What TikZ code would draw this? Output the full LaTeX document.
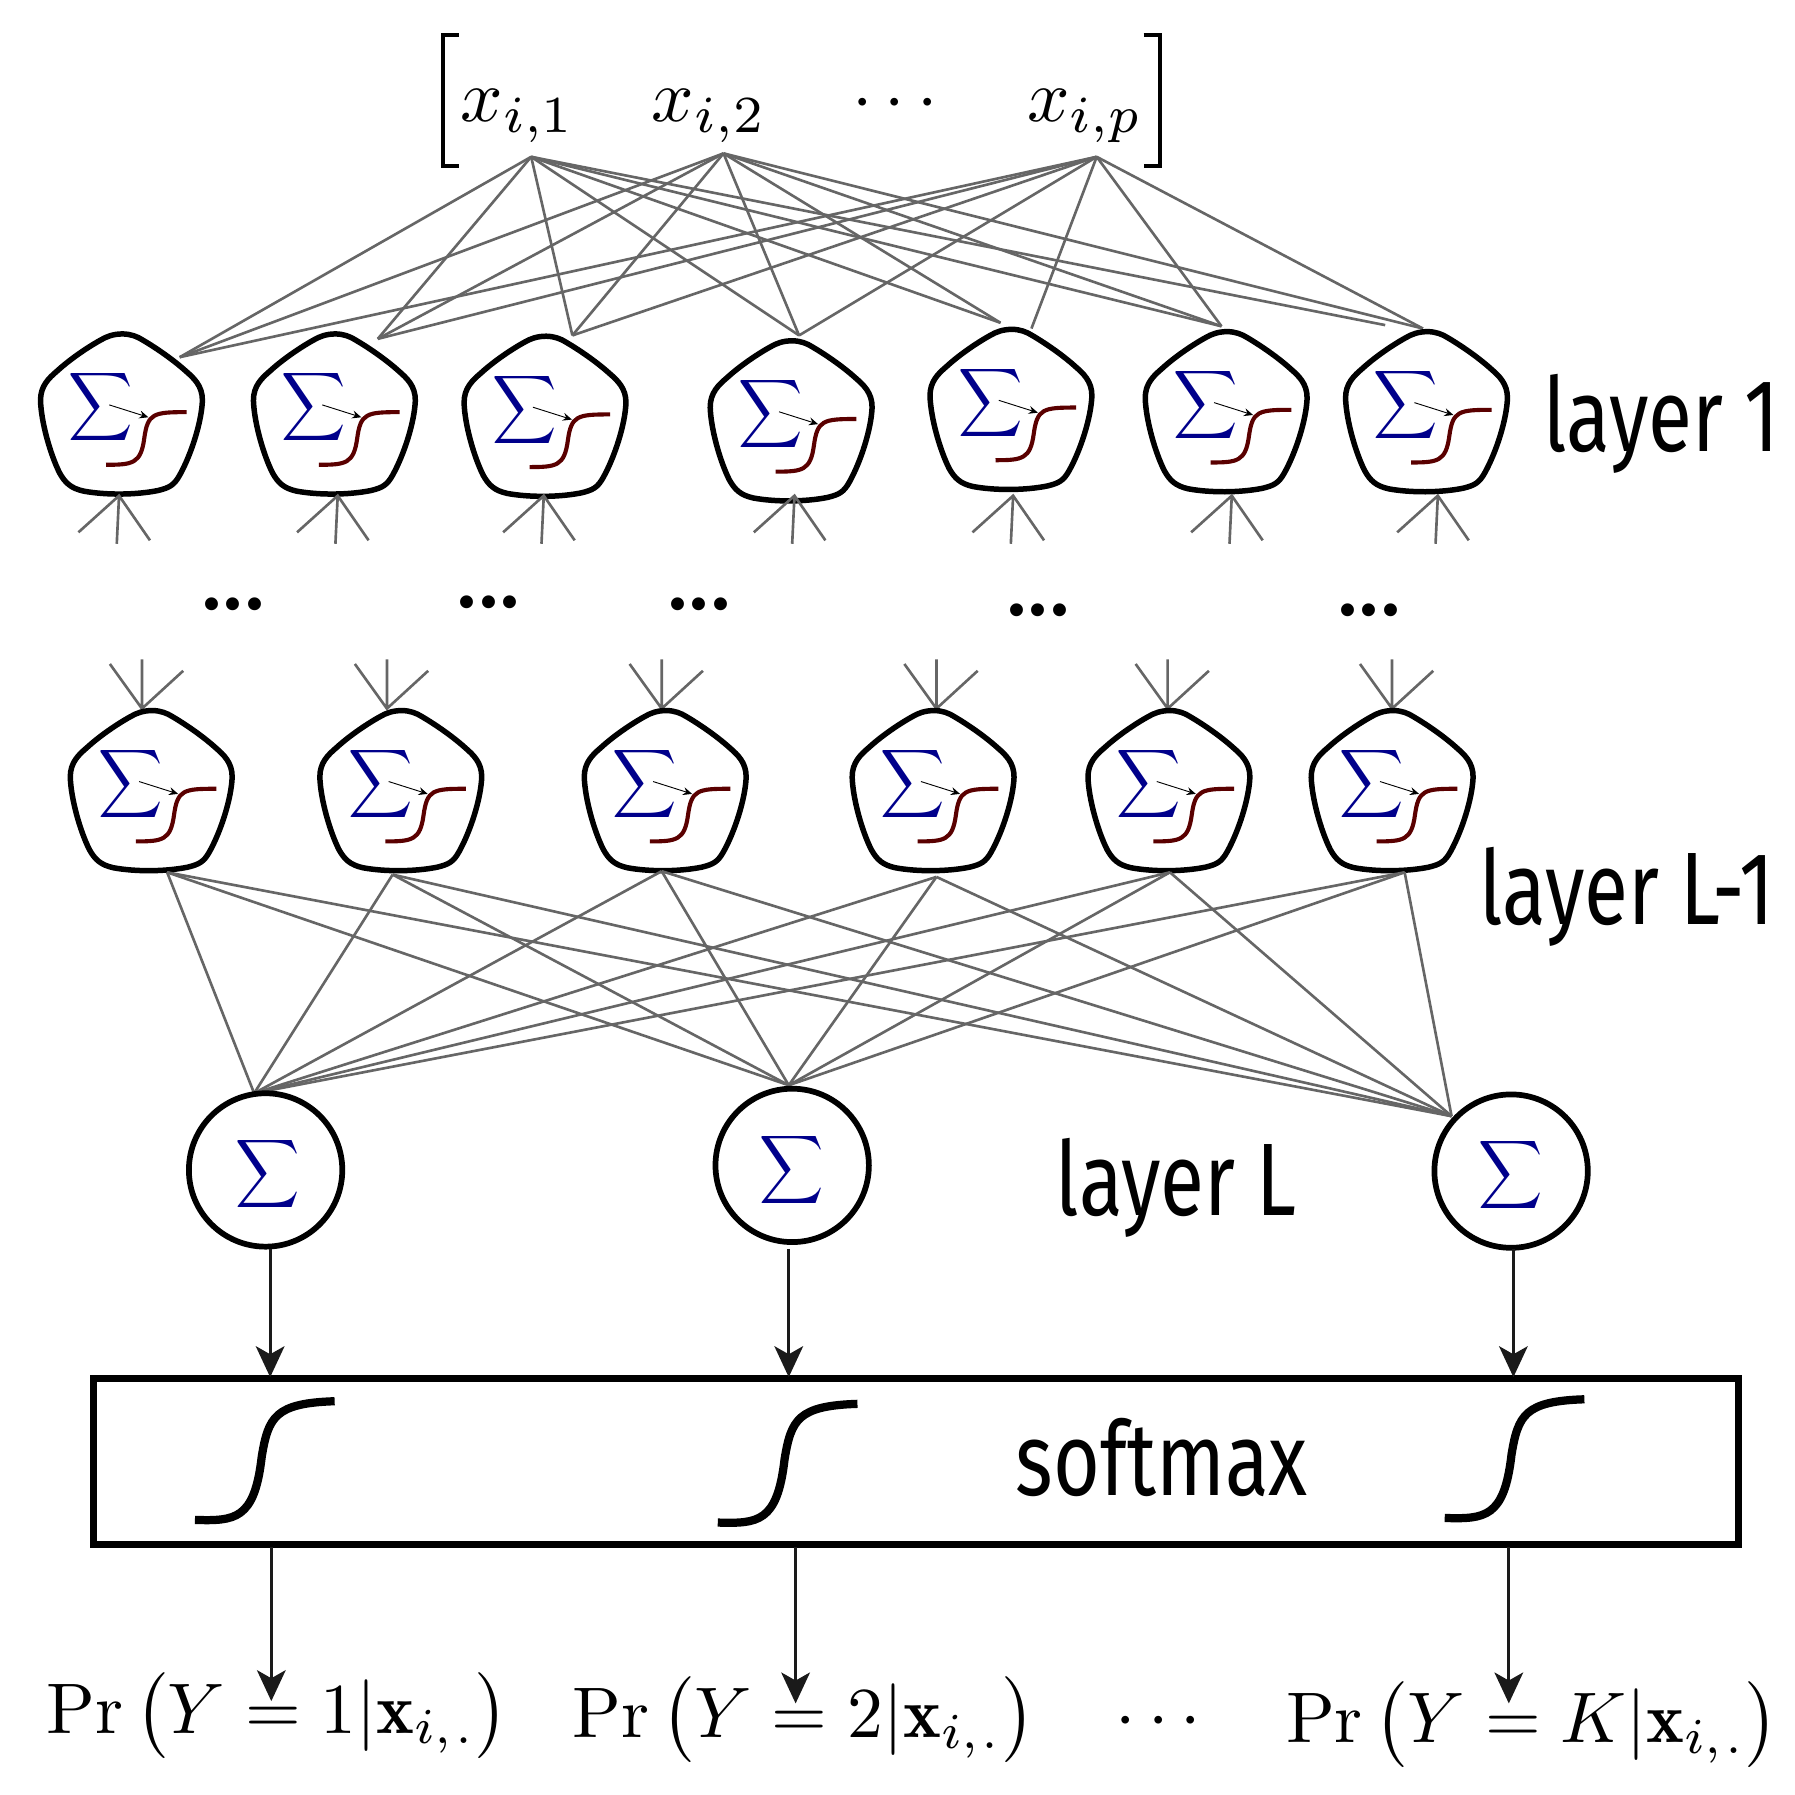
\documentclass[tikz,border=0pt]{standalone}
\usepackage{fontspec}
\usetikzlibrary{arrows.meta}
\newfontfamily\ubu{Fira Sans}
\definecolor{edgegray}{HTML}{666666}
\definecolor{sigblue}{HTML}{00008B}
\definecolor{curvered}{HTML}{5A0000}
\definecolor{arrowblack}{HTML}{1A1A1A}
\tikzset{
  cell/.style={draw=black,line width=2.4pt,line join=round},
  edge/.style={draw=edgegray,line width=1.15pt},
  sig/.style={inner sep=0pt,text=sigblue},
  curve/.style={draw=curvered,line width=1.8pt},
  bigcurve/.style={draw=black,line width=3.6pt},
  flow/.style={draw=arrowblack,line width=1.45pt,-{Stealth[length=13.5pt,width=12.5pt,inset=3.5pt]}},
  lab/.style={inner sep=0pt,anchor=base west},
  dots/.style={inner sep=0pt,anchor=base},
  circ/.style={draw=black,circle,line width=2.5pt,minimum size=67pt,inner sep=0pt},
}
\newcommand\SigmaMark{\scalebox{1.95}[2.09]{$\displaystyle\sum$}}
\newcommand\ThreeDots{{\fontsize{31}{36}\ubu\bfseries .\kern2pt.\kern2pt.}}
\newcommand\neuron[3]{%
  \coordinate (#1) at (#2,#3);
  \begin{scope}[shift={(#2,#3)}]
    \draw[cell] (1,-69.3) .. controls (8,-69.3) and (14,-67) .. (18.6,-64)
      .. controls (28,-58.5) and (44,-48) .. (56.5,-36.7)
      .. controls (63,-31) and (71,-24) .. (70.8,-11)
      .. controls (70,8) and (61,36) .. (51,54)
      .. controls (46,63) and (42,65) .. (32,67.5)
      .. controls (12,71.5) and (-14,71.5) .. (-33,68)
      .. controls (-44,65.5) and (-49,61) .. (-54,52)
      .. controls (-62,36) and (-70,8) .. (-70.6,-11)
      .. controls (-70.8,-24) and (-63,-31) .. (-56,-37)
      .. controls (-44,-48) and (-28,-58.5) .. (-18,-64)
      .. controls (-13,-67) and (-7,-69.3) .. (1,-69.3) -- cycle;
    \node[sig] (#1s) at (-17.7,-5.2) {\SigmaMark};
    \draw[curve] (-13.4,45) .. controls (10,45) and (17,44) .. (20,22)
      .. controls (23,0) and (28,-1) .. (57,-1);
    \coordinate (#1a) at (-10.5,-7.3);
    \coordinate (#1b) at (23.6,3.5);
    \draw[line width=0.4pt,-{Stealth[length=4pt,width=3.5pt,inset=1.4pt]}] (#1a) -- (#1b);
  \end{scope}}
\newcommand\lowfan[3]{%
  \coordinate (#1f) at (#2,#3);
  \coordinate (#1u) at (#2-35.5,#3+32);
  \coordinate (#1v) at (#2-2,#3+42);
  \coordinate (#1w) at (#2+27,#3+39);
  \draw[edge] (#1u) -- (#1f) -- (#1w) (#1f) -- (#1v);}
\newcommand\highfan[3]{%
  \coordinate (#1f) at (#2,#3);
  \coordinate (#1u) at (#2-28,#3-39);
  \coordinate (#1v) at (#2,#3-43);
  \coordinate (#1w) at (#2+36,#3-33);
  \draw[edge] (#1u) -- (#1f) -- (#1w) (#1f) -- (#1v);}
\newcommand\bigsig[3]{%
  \begin{scope}[shift={(#2,#3)}]
    \draw[bigcurve] (0,0) .. controls (35,1) and (52,0) .. (58.3,-55)
      .. controls (64,-90) and (70,-102) .. (122,-103.7);
  \end{scope}}
\begin{document}
\begin{tikzpicture}[x=.5pt,y=-.5pt]
\useasboundingbox (0,0) rectangle (1568,1568);
% input vector
\node[lab] (x1) at (402,106) {\scalebox{3.25}{$x_{i,1}$}};
\node[lab] (x2) at (569,106) {\scalebox{3.25}{$x_{i,2}$}};
\node[dots] (xd) at (782,105) {\scalebox{3.2}{$\cdots$}};
\node[lab] (xp) at (897,106) {\scalebox{3.25}{$x_{i,p}$}};
\coordinate (bl1) at (400.6,31); \coordinate (bl2) at (387,31);
\coordinate (bl3) at (387,145); \coordinate (bl4) at (400.6,145);
\coordinate (br1) at (999,31); \coordinate (br2) at (1013.5,31);
\coordinate (br3) at (1013.5,145); \coordinate (br4) at (999,145);
\draw[black,line width=1.75pt] (bl1) -- (bl2) -- (bl3) -- (bl4);
\draw[black,line width=1.75pt] (br1) -- (br2) -- (br3) -- (br4);
% connector anchors
\coordinate (i1) at (464,137);
\coordinate (i2) at (632,134);
\coordinate (ip) at (958,137);
\coordinate (a1) at (157,312);
\coordinate (a2) at (330,296);
\coordinate (a3) at (500,293);
\coordinate (a4) at (698,293);
\coordinate (a5) at (874,282);
\coordinate (a5r) at (901,287);
\coordinate (a6) at (1067,285);
\coordinate (a7) at (1243,287);
\coordinate (a7l) at (1210,284);
\foreach \t in {a1,a2,a3,a4,a5,a6,a7l} \draw[edge] (i1) -- (\t);
\foreach \t in {a1,a2,a3,a4,a5,a6,a7} \draw[edge] (i2) -- (\t);
\foreach \t in {a1,a2,a3,a4,a5r,a6,a7} \draw[edge] (ip) -- (\t);
% layer 1
\neuron{n1}{106}{361}
\neuron{n2}{292}{361}
\neuron{n3}{476}{363}
\neuron{n4}{691}{367}
\neuron{n5}{883}{357}
\neuron{n6}{1071}{359}
\neuron{n7}{1246}{359}
\lowfan{f1}{104}{433}
\lowfan{f2}{295}{433}
\lowfan{f3}{475}{433}
\lowfan{f4}{694}{433}
\lowfan{f5}{885}{433}
\lowfan{f6}{1076}{433}
\lowfan{f7}{1256}{433}
\node[lab] (l1) at (1348,394) {\scalebox{.78}[1]{\fontsize{45}{50}\ubu layer 1}};
% dots
\node[dots] (d1) at (204,532) {\ThreeDots};
\node[dots] (d2) at (427,531) {\ThreeDots};
\node[dots] (d3) at (611,532) {\ThreeDots};
\node[dots] (d4) at (907,538) {\ThreeDots};
\node[dots] (d5) at (1196,538) {\ThreeDots};
% layer L-1
\highfan{g1}{124}{619}
\highfan{g2}{338}{619}
\highfan{g3}{578}{619}
\highfan{g4}{818}{619}
\highfan{g5}{1020}{619}
\highfan{g6}{1216}{619}
\neuron{m1}{132}{690}
\neuron{m2}{350}{690}
\neuron{m3}{581}{690}
\neuron{m4}{815}{690}
\neuron{m5}{1021}{690}
\neuron{m6}{1216}{690}
\node[lab] (l2) at (1292,808) {\scalebox{.78}[1]{\fontsize{45}{50}\ubu layer L-1}};
% connections to layer L
\coordinate (b1) at (146,762);
\coordinate (b2) at (343,764);
\coordinate (b3) at (578,761);
\coordinate (b4) at (818,766);
\coordinate (b5) at (1022,762);
\coordinate (b6) at (1227,762);
\coordinate (e1) at (222,955);
\coordinate (e2) at (689,948);
\coordinate (e3) at (1268,975);
\foreach \s in {b1,b2,b3,b4,b5,b6} \foreach \t in {e1,e2,e3} \draw[edge] (\s) -- (\t);
% layer L
\node[circ] (c1) at (232,1022) {};
\node[circ] (c2) at (692,1018) {};
\node[circ] (c3) at (1320,1023) {};
\node[sig] (c1s) at (234,1025.5) {\SigmaMark};
\node[sig] (c2s) at (692,1022) {\SigmaMark};
\node[sig] (c3s) at (1320,1026) {\SigmaMark};
\node[lab] (l3) at (922,1062) {\scalebox{.78}[1]{\fontsize{45}{50}\ubu layer L}};
% softmax box
\node[draw=black,line width=3.1pt,minimum width=718.5pt,minimum height=72.25pt,inner sep=0pt,outer sep=0pt] (box) at (800.5,1276.75) {};
\coordinate (t1) at (236,1091); \coordinate (u1) at (236,1203);
\coordinate (t2) at (689,1091); \coordinate (u2) at (689,1203);
\coordinate (t3) at (1322,1091); \coordinate (u3) at (1322,1203);
\draw[flow] (t1) -- (u1);
\draw[flow] (t2) -- (u2);
\draw[flow] (t3) -- (u3);
\bigsig{s1}{170.3}{1327.7}
\bigsig{s2}{627}{1330}
\bigsig{s3}{1262}{1326}
\node[lab] (sm) at (887,1306) {\scalebox{.78}[1]{\fontsize{45}{50}\ubu softmax}};
% outputs
\node[lab] (o1) at (40,1514) {\scalebox{3.13}{$\Pr\,\bigl(Y=1|\mathbf{x}_{i,\mkern1mu.}\bigr)$}};
\node[lab] (o2) at (500,1518) {\scalebox{3.13}{$\Pr\,\bigl(Y=2|\mathbf{x}_{i,\mkern1mu.}\bigr)$}};
\node[dots] (od) at (1012,1519) {\scalebox{3.2}{$\cdots$}};
\node[lab] (o3) at (1123,1522) {\scalebox{3.13}{$\Pr\,\bigl(Y=K|\mathbf{x}_{i,\mkern1mu.}\bigr)$}};
\coordinate (v1) at (237,1351); \coordinate (w1) at (237,1486);
\coordinate (v2) at (695,1351); \coordinate (w2) at (695,1488);
\coordinate (v3) at (1318,1351); \coordinate (w3) at (1318,1488);
\draw[flow] (v1) -- (w1);
\draw[flow] (v2) -- (w2);
\draw[flow] (v3) -- (w3);
\end{tikzpicture}
\end{document}
